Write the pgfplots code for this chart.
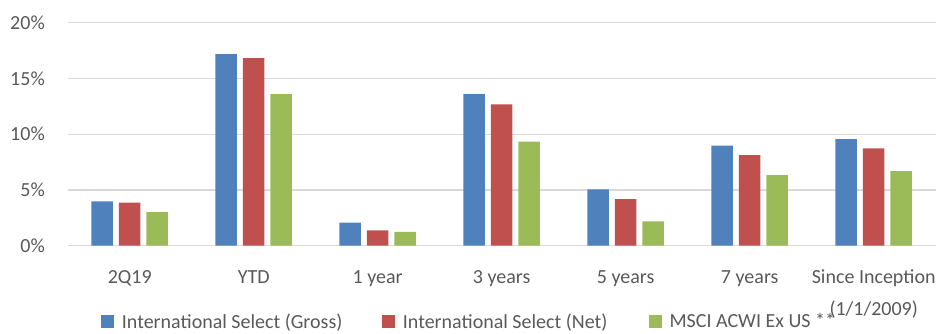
\documentclass[border=0pt]{standalone}
\usepackage{fontspec}
\setmainfont{Carlito}
\usepackage{pgfplots}
\pgfplotsset{compat=1.18}
\definecolor{cblue}{HTML}{4F81BD}
\definecolor{cred}{HTML}{C0504D}
\definecolor{cgreen}{HTML}{9BBB59}
\definecolor{ctext}{HTML}{595959}
\definecolor{cgrid}{HTML}{D9D9D9}
\begin{document}
\begin{tikzpicture}
\useasboundingbox (0,0) rectangle (936pt,333pt);
\begin{axis}[
  at={(67.7pt,87.3pt)}, anchor=south west,
  scale only axis, width=868pt, height=222.9pt,
  xmin=-0.5, xmax=6.5, ymin=0, ymax=20,
  ybar=6pt, bar width=21.5pt,
  xtick={0,1,2,3,4,5,6},
  xticklabels={2Q19,YTD,1 year,3 years,5 years,7 years,{\begin{tabular}[t]{@{}c@{}}Since Inception\\[8pt](1/1/2009)\end{tabular}}},
  ytick={0,5,10,15,20},
  yticklabel={\pgfmathprintnumber{\tick}\%},
  /pgf/number format/assume math mode=true,
  major tick length=0pt,
  tick style={draw=none},
  axis line style={draw=none},
  ymajorgrids, grid style={cgrid, line width=1.3pt},
  font=\fontsize{20}{24}\selectfont,
  tick label style={text=ctext, font=\fontsize{20}{24}\selectfont},
  yticklabel style={anchor=east, inner sep=0pt, xshift=-22.7pt},
  xticklabel style={anchor=base, inner sep=0pt, yshift=-37.3pt},
  legend style={at={(0.0384,-0.340)}, anchor=west, draw=none, fill=none,
    inner sep=0pt, column sep=0pt, nodes={inner sep=0pt, text=ctext},
    font=\fontsize{20}{24}\selectfont},
  legend columns=3,
  legend image code/.code={\fill[#1,draw=none] (0pt,-6.5pt) rectangle (13pt,6.5pt); \path (20.7pt,0pt);},
]
\addplot[fill=cblue, draw=none] coordinates {(0,3.98) (1,17.2) (2,2.06) (3,13.6) (4,5.06) (5,8.97) (6,9.57)};
\addplot[fill=cred, draw=none] coordinates {(0,3.86) (1,16.83) (2,1.38) (3,12.68) (4,4.19) (5,8.13) (6,8.73)};
\addplot[fill=cgreen, draw=none] coordinates {(0,3.02) (1,13.6) (2,1.23) (3,9.33) (4,2.19) (5,6.34) (6,6.7)};
\legend{\makebox[260.3pt][l]{International Select (Gross)},\makebox[246pt][l]{International Select (Net)},MSCI ACWI Ex US **}
\end{axis}
\end{tikzpicture}
\end{document}
